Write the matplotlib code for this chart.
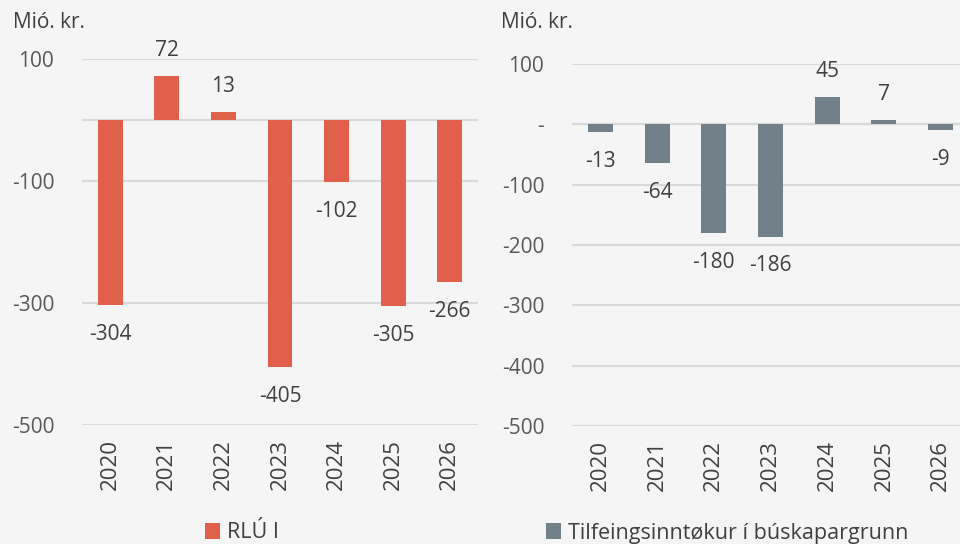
import matplotlib
matplotlib.use("Agg")
import matplotlib.pyplot as plt
from matplotlib.ticker import FuncFormatter
from matplotlib.patches import Patch

years = ["2020", "2021", "2022", "2023", "2024", "2025", "2026"]
rlu_values = [-304, 72, 13, -405, -102, -305, -266]
tilf_values = [-13, -64, -180, -186, 45, 7, -9]
left_ticks = [100, -100, -300, -500]
right_ticks = [100, 0, -100, -200, -300, -400, -500]
unit_label = "Mió. kr."
left_legend = "RLÚ I"
right_legend = "Tilfeingsinntøkur í búskapargrunn"

RED = "#E0604B"
GREY = "#72808A"
BG = "#F5F5F5"
TXT = "#404040"
TICK = "#595959"
GRID = "#D9D9D9"
FONT = ["Open Sans", "DejaVu Sans"]

plt.rcParams['font.family'] = FONT
plt.rcParams['axes.unicode_minus'] = False

fig = plt.figure(figsize=(9.6, 5.44), dpi=100, facecolor=BG)


def panel(rect, values, color, ticks, zero_dash, legend_text, legend_x, title_x):
    ax = fig.add_axes(rect)
    ax.set_facecolor(BG)
    x = list(range(len(years)))
    ax.bar(x, values, width=0.44, color=color, zorder=3)
    ax.set_xlim(-0.5, len(years) - 0.5)
    ax.set_ylim(-500, 100)
    ax.set_yticks(ticks)
    ax.yaxis.set_major_formatter(
        FuncFormatter(lambda v, p: "-" if (zero_dash and v == 0) else f"{v:.0f}"))
    for t in ticks:
        ax.axhline(t, color=GRID, lw=1.5, zorder=1)
    ax.axhline(0, color=GRID, lw=1.5, zorder=1)
    ax.set_xticks(x)
    ax.set_xticklabels(years, rotation=90, fontsize=16, color=TXT)
    ax.tick_params(axis='x', length=0, pad=10)
    ax.tick_params(axis='y', length=0, pad=20, labelsize=15, labelcolor=TICK)
    for s in ax.spines.values():
        s.set_visible(False)
    for xi, v in zip(x, values):
        if v >= 0:
            ax.annotate(f"{v}", (xi, v), xytext=(0, 11), textcoords="offset points",
                        ha="center", va="bottom", fontsize=15, color=TXT, annotation_clip=False)
        else:
            ax.annotate(f"{v}", (xi, v), xytext=(0, -13.5), textcoords="offset points",
                        ha="center", va="top", fontsize=15, color=TXT, annotation_clip=False)
    fig.text(title_x, 1 - 23 / 544, unit_label, fontsize=15, color=TXT, ha="left", va="center")
    fig.legend(handles=[Patch(facecolor=color, edgecolor="none")], labels=[legend_text],
               loc="center left", bbox_to_anchor=(legend_x, 1 - 533 / 544), frameon=False,
               fontsize=15.5, handlelength=0.7, handleheight=0.7, handletextpad=0.3,
               borderaxespad=0, borderpad=0, labelcolor=TXT)
    return ax


panel([82 / 960, 1 - 425 / 544, (478 - 82) / 960, (425 - 59) / 544], rlu_values, RED,
      left_ticks, False, left_legend, 205 / 960, 13 / 960)
panel([572 / 960, 1 - 426 / 544, (969 - 572) / 960, (426 - 64) / 544], tilf_values, GREY,
      right_ticks, True, right_legend, 546 / 960, 501 / 960)

fig.savefig("out.png", dpi=100, facecolor=BG)
